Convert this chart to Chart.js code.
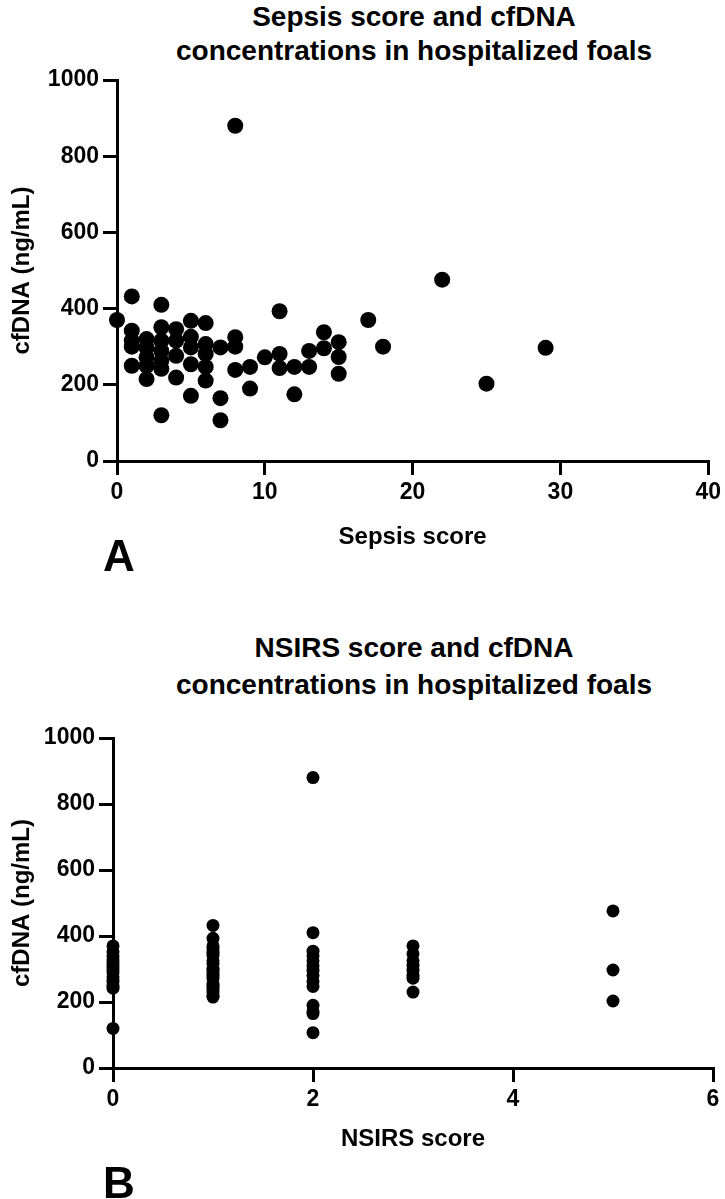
<!DOCTYPE html>
<html lang="en">
<head>
<meta charset="UTF-8">
<title>Sepsis / NSIRS score and cfDNA in hospitalized foals</title>
<script src="https://cdn.jsdelivr.net/npm/chart.js"></script>
<style>
  body { margin: 0; background: #fff; width: 725px; height: 1199px; position: relative; overflow: hidden;
         font-family: "Liberation Sans", Arial, sans-serif; color: #000; }
  .title { position: absolute; left: 64px; width: 700px; text-align: center; font-weight: bold;
           font-size: 28px; }
  .panel { position: absolute; font-weight: bold; font-size: 44px; line-height: 44px; }
  .box { position: absolute; left: 0; width: 725px; }
</style>
</head>
<body>
<div class="title" style="top:0px;line-height:34px">Sepsis score and cfDNA<br>concentrations in hospitalized foals</div>
<div class="box" style="top:0px;height:600px"><canvas id="chartA"></canvas></div>
<div class="panel" style="left:103px;top:534px">A</div>

<div class="title" style="top:629px;line-height:37px">NSIRS score and cfDNA<br>concentrations in hospitalized foals</div>
<div class="box" style="top:600px;height:599px"><canvas id="chartB"></canvas></div>
<div class="panel" style="left:103px;top:1161px">B</div>

<script>
  // Panel A: sepsis score vs cfDNA (ng/mL)
  const sepsisScore = [0, 1, 1, 1, 1, 1, 2, 2, 2, 2, 2, 3, 3, 3, 3, 3, 3, 3, 4, 4, 4, 4,
                       5, 5, 5, 5, 5, 6, 6, 6, 6, 6, 7, 7, 7, 8, 8, 8, 8, 9, 9, 10, 11, 11, 11,
                       12, 12, 13, 13, 14, 14, 15, 15, 15, 17, 18, 22, 25, 29];
  const sepsisCfdna = [370, 432, 342, 316, 300, 250, 320, 298, 272, 250, 215, 410, 351, 316, 289, 263, 242, 120,
                       346, 316, 276, 219, 368, 326, 298, 254, 171, 362, 307, 281, 247, 211, 298, 165, 107,
                       880, 325, 300, 239, 247, 190, 272, 393, 281, 244, 247, 175, 289, 247, 338, 296,
                       312, 273, 229, 370, 300, 476, 203, 297];
  const sepsisTicksX = [0, 10, 20, 30, 40];

  // Panel B: NSIRS score vs cfDNA (ng/mL)
  const nsirsScore = [0, 0, 0, 0, 0, 0, 0, 0, 0, 0, 0, 0, 0,
                      1, 1, 1, 1, 1, 1, 1, 1, 1, 1, 1, 1, 1, 1, 1, 1, 1, 1, 1,
                      2, 2, 2, 2, 2, 2, 2, 2, 2, 2, 2, 2, 2, 2,
                      3, 3, 3, 3, 3, 3, 3, 3,
                      5, 5, 5];
  const nsirsCfdna = [370, 352, 338, 326, 316, 307, 298, 289, 276, 263, 250, 242, 120,
                      432, 393, 370, 362, 351, 342, 325, 316, 300, 298, 289, 281, 272, 254, 247, 239, 229, 219, 215,
                      880, 410, 354, 340, 325, 310, 296, 280, 262, 247, 190, 171, 165, 107,
                      370, 346, 325, 311, 296, 281, 272, 230,
                      476, 297, 203];
  const nsirsTicksX = [0, 2, 4, 6];

  const cfdnaTicks = [0, 200, 400, 600, 800, 1000];

  Chart.defaults.font.family = '"Liberation Sans", Arial, sans-serif';
  Chart.defaults.color = '#000';

  function makeChart(id, xs, ys, xTicks, xLabel, o) {
    const points = xs.map((x, i) => ({ x: x, y: ys[i] }));
    const axisLine = { color: '#000', width: 3 };
    const gridTicks = { drawOnChartArea: false, drawTicks: true, color: '#000', lineWidth: 3, tickLength: 14 };
    const tickFont = { size: 23, weight: 'bold' };
    const titleFont = { size: 24, weight: 'bold' };

    return new Chart(document.getElementById(id), {
      type: 'scatter',
      data: {
        datasets: [{
          data: points,
          backgroundColor: '#000',
          borderWidth: 0,
          pointRadius: o.radius,
          pointHoverRadius: o.radius,
          clip: false
        }]
      },
      options: {
        responsive: true,
        maintainAspectRatio: false,
        animation: false,
        layout: { padding: { top: o.top, right: o.right, left: 0, bottom: 0 } },
        plugins: { legend: { display: false }, tooltip: { enabled: false } },
        scales: {
          x: {
            type: 'linear',
            min: xTicks[0],
            max: xTicks[xTicks.length - 1],
            afterBuildTicks: s => { s.ticks = xTicks.map(v => ({ value: v })); },
            ticks: { font: tickFont, padding: 4, maxRotation: 0, callback: v => String(v) },
            grid: gridTicks,
            border: axisLine,
            title: { display: true, text: xLabel, font: titleFont, padding: { top: 0, bottom: o.xTitlePad } },
            afterFit: s => { s.height = o.xHeight; }
          },
          y: {
            type: 'linear',
            min: 0,
            max: 1000,
            afterBuildTicks: s => { s.ticks = cfdnaTicks.map(v => ({ value: v })); },
            ticks: { font: tickFont, padding: 4, callback: v => String(v) },
            grid: gridTicks,
            border: axisLine,
            title: { display: true, text: 'cfDNA (ng/mL)', font: titleFont, padding: { top: 8, bottom: 0 } },
            afterFit: s => { s.width = o.yWidth; }
          }
        }
      }
    });
  }

  makeChart('chartA', sepsisScore, sepsisCfdna, sepsisTicksX, 'Sepsis score',
    { radius: 8, top: 80, right: 14, yWidth: 117, xHeight: 139, xTitlePad: 48 });
  makeChart('chartB', nsirsScore, nsirsCfdna, nsirsTicksX, 'NSIRS score',
    { radius: 6.5, top: 138, right: 12, yWidth: 113, xHeight: 131, xTitlePad: 45 });
</script>
</body>
</html>
